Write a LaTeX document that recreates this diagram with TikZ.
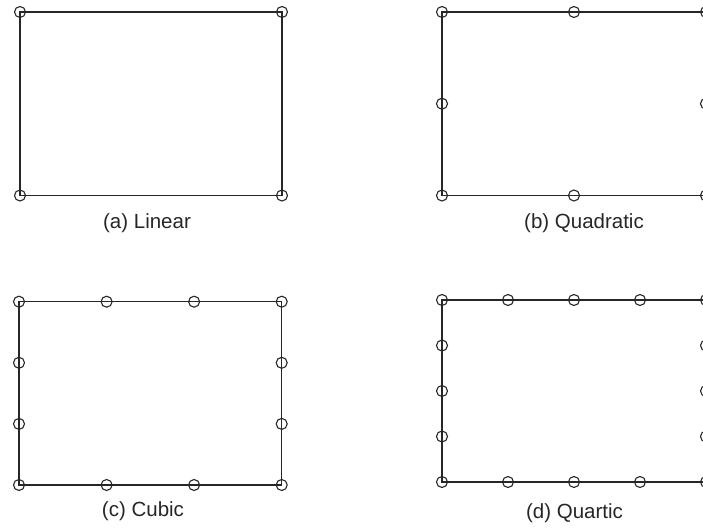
\documentclass[tikz,border=0pt]{standalone}
\usepackage{fontspec}
\setmainfont{Liberation Sans}
\begin{document}
\begin{tikzpicture}[x=1pt,y=-1pt,
  edge/.style={draw=black!85, line width=1.2pt},
  knot/.style={circle, draw=black!85, line width=1.1pt, minimum size=11pt, inner sep=0pt},
  caption/.style={anchor=base, font=\fontsize{20.5}{24}\selectfont, text=black!85, inner sep=0pt}]
\useasboundingbox (0,0) rectangle (703,529);
% ---------- (a) Linear ----------
\coordinate (aTL) at (20,12);
\coordinate (aBR) at (282,195.5);
\draw[edge] (aTL) rectangle (aBR);
\foreach \x/\y/\n in {20/12/1, 282/12/2, 20/195.5/3, 282/195.5/4}
  \node[knot] (a\n) at (\x,\y) {};
\node[caption] (la) at (147,229) {(a) Linear};
% ---------- (b) Quadratic ----------
\coordinate (bTL) at (442,12);
\coordinate (bBR) at (706,195.5);
\draw[edge] (bTL) rectangle (bBR);
\foreach \x/\y/\n in {442/12/1, 574/12/2, 706/12/3, 442/103.7/4, 706/103.7/5,
                      442/195.5/6, 574/195.5/7, 706/195.5/8}
  \node[knot] (b\n) at (\x,\y) {};
\node[caption] (lb) at (584,229) {(b) Quadratic};
% ---------- (c) Cubic ----------
\coordinate (cTL) at (19,301.7);
\coordinate (cBR) at (281.7,485);
\draw[edge] (cTL) rectangle (cBR);
\foreach \x/\y/\n in {19/301.7/1, 106.6/301.7/2, 194.1/301.7/3, 281.7/301.7/4,
                      19/362.8/5, 281.7/362.8/6, 19/423.9/7, 281.7/423.9/8,
                      19/485/9, 106.6/485/10, 194.1/485/11, 281.7/485/12}
  \node[knot] (c\n) at (\x,\y) {};
\node[caption] (lc) at (143,516) {(c) Cubic};
% ---------- (d) Quartic ----------
\coordinate (dTL) at (442,300);
\coordinate (dBR) at (706,482);
\draw[edge] (dTL) rectangle (dBR);
\foreach \x/\y/\n in {442/300/1, 508/300/2, 574/300/3, 640/300/4, 706/300/5,
                      442/345.5/6, 706/345.5/7, 442/391/8, 706/391/9, 442/436.5/10, 706/436.5/11,
                      442/482/12, 508/482/13, 574/482/14, 640/482/15, 706/482/16}
  \node[knot] (d\n) at (\x,\y) {};
\node[caption] (ld) at (574.5,518) {(d) Quartic};
\end{tikzpicture}
\end{document}
